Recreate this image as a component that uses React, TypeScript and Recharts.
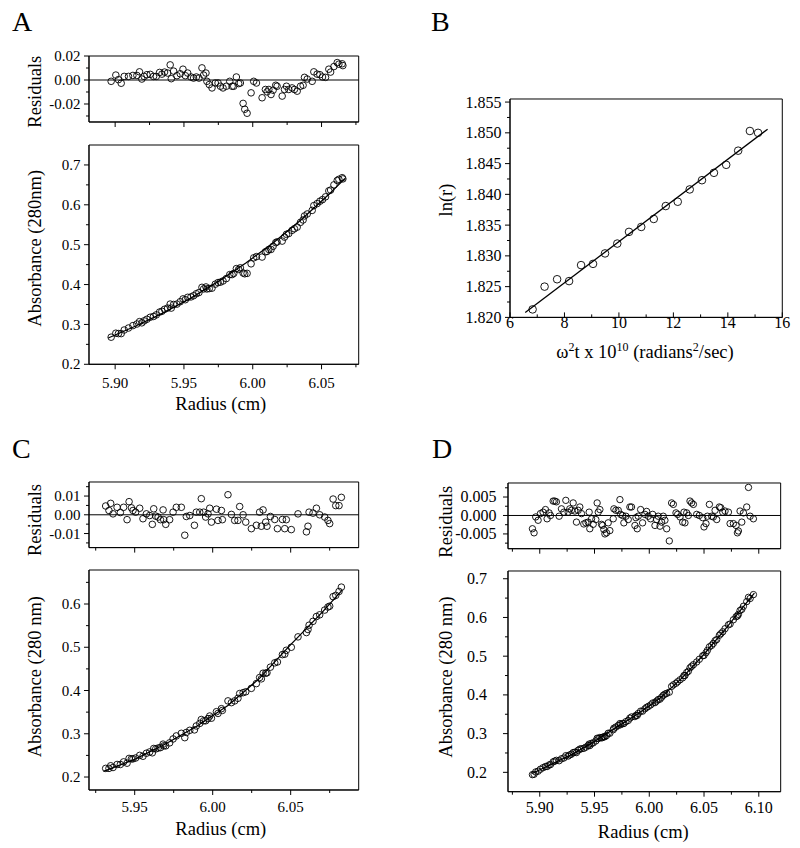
import { ScatterChart, Scatter, XAxis, YAxis, ReferenceLine, ReferenceArea } from 'recharts';

const FONT = "'Liberation Serif', 'Times New Roman', Times, 'DejaVu Serif', serif";

// ---- Panel A: residuals + absorbance vs radius ----
const aRadius = [
  5.8971, 5.9005, 5.9024, 5.9044, 5.9066, 5.9097, 5.9129, 5.9158, 5.9177, 5.9194,
  5.9211, 5.9231, 5.9255, 5.9279, 5.9299, 5.9323, 5.934, 5.9359, 5.9381, 5.94,
  5.9408, 5.9425, 5.9449, 5.9473, 5.9493, 5.951, 5.9527, 5.9551, 5.957, 5.959,
  5.9609, 5.9631, 5.9643, 5.966, 5.9667, 5.9684, 5.9704, 5.9728, 5.9748, 5.9765,
  5.9784, 5.9808, 5.9833, 5.985, 5.9862, 5.9881, 5.9898, 5.991, 5.993, 5.9942,
  5.9959, 5.9988, 6.0007, 6.0027, 6.0068, 6.0092, 6.0104, 6.0117, 6.0133, 6.0148,
  6.0167, 6.0177, 6.0214, 6.0231, 6.0245, 6.0262, 6.0286, 6.0303, 6.0323, 6.0347,
  6.0366, 6.0376, 6.0396, 6.0432, 6.0444, 6.0468, 6.0488, 6.0507, 6.0529, 6.0553,
  6.0566, 6.059, 6.0614, 6.0626, 6.065, 6.0655,
];
const aResidual = [
  -0.0011, 0.0041, 0.0003, -0.0027, 0.003, 0.003, 0.0038, 0.0038, 0.0068, 0.0008,
  0.003, 0.0044, 0.0047, 0.003, 0.003, 0.0063, 0.0049, 0.0066, 0.0058, 0.0126,
  0.0011, 0.0074, 0.0036, 0.0052, 0.009, 0.0036, 0.0058, 0.0025, 0.0016, 0.0025,
  0.0016, 0.0101, 0.0041, 0.0058, -0.0011, -0.0038, -0.0066, -0.0025, -0.0025, -0.0052,
  -0.0066, -0.0052, -0.0011, -0.0052, -0.0052, 0.0025, -0.003, -0.0025, -0.0195, -0.0244,
  -0.0277, -0.0107, -0.0011, -0.0025, -0.0148, -0.0079, -0.0099, -0.0079, -0.0121, -0.0085,
  -0.0044, -0.0052, -0.0134, -0.0079, -0.0052, -0.0079, -0.0066, -0.0079, -0.0093, -0.0052,
  -0.0044, 0.0022, 0.0008, -0.0011, 0.0068, 0.0049, 0.0044, 0.0025, 0.0022, 0.009,
  0.0066, 0.0112, 0.0145, 0.0132, 0.0135, 0.012,
];
const aAbsorbance = [
  0.268, 0.278, 0.277, 0.277, 0.286, 0.291, 0.297, 0.301, 0.307, 0.304,
  0.309, 0.313, 0.318, 0.32, 0.324, 0.331, 0.333, 0.338, 0.341, 0.351,
  0.341, 0.35, 0.351, 0.357, 0.364, 0.362, 0.368, 0.369, 0.372, 0.377,
  0.38, 0.393, 0.389, 0.394, 0.389, 0.39, 0.391, 0.401, 0.405, 0.406,
  0.409, 0.415, 0.425, 0.425, 0.428, 0.44, 0.438, 0.442, 0.429, 0.427,
  0.428, 0.452, 0.467, 0.47, 0.469, 0.482, 0.483, 0.488, 0.488, 0.496,
  0.505, 0.507, 0.509, 0.519, 0.526, 0.528, 0.536, 0.54, 0.544, 0.556,
  0.562, 0.572, 0.577, 0.586, 0.598, 0.603, 0.609, 0.613, 0.62, 0.635,
  0.637, 0.65, 0.661, 0.664, 0.668, 0.665,
];
const aFitRadius = [5.895, 5.915, 5.935, 5.955, 5.975, 5.995, 6.015, 6.035, 6.055, 6.067];
const aFitAbs = [0.266, 0.296, 0.329, 0.366, 0.408, 0.454, 0.505, 0.562, 0.625, 0.666];

// ---- Panel B: ln(r) vs omega^2 t ----
const bOmega = [6.83, 7.27, 7.73, 8.17, 8.61, 9.05, 9.49, 9.94, 10.37, 10.82, 11.28, 11.72, 12.16, 12.6, 13.05, 13.49, 13.94, 14.38, 14.81, 15.11];
const bLnR = [1.8213, 1.825, 1.8262, 1.8259, 1.8285, 1.8287, 1.8304, 1.832, 1.8339, 1.8347, 1.836, 1.8381, 1.8388, 1.8408, 1.8423, 1.8435, 1.8448, 1.8471, 1.8503, 1.85];
const bFitOmega = [6.56, 15.46];
const bFitLnR = [1.8208, 1.8506];

// ---- Panel C ----
const cRadius = [
  5.9314, 5.9335, 5.9346, 5.9361, 5.9387, 5.9408, 5.9429, 5.9451, 5.9464, 5.9479,
  5.9489, 5.9506, 5.9532, 5.9553, 5.9575, 5.9596, 5.9613, 5.9622, 5.9635, 5.965,
  5.9665, 5.9682, 5.9686, 5.9699, 5.9724, 5.9746, 5.9767, 5.9799, 5.9821, 5.9831,
  5.9853, 5.9883, 5.9895, 5.9917, 5.9927, 5.9942, 5.9955, 5.997, 5.9981, 5.9992,
  6.0024, 6.0034, 6.0056, 6.0062, 6.0098, 6.012, 6.0141, 6.0162, 6.0173, 6.0195,
  6.0212, 6.0248, 6.028, 6.0301, 6.0312, 6.0323, 6.034, 6.0348, 6.037, 6.0398,
  6.0415, 6.0447, 6.0462, 6.0472, 6.0504, 6.0547, 6.0601, 6.0611, 6.0618, 6.0643,
  6.0665, 6.0686, 6.0718, 6.0739, 6.075, 6.0772, 6.0789, 6.081, 6.0825,
];
const cResidual = [
  0.0047, 0.0023, 0.0061, 0.0005, 0.004, 0.0012, 0.004, -0.0026, 0.007, 0.0037,
  0.0023, 0.0014, 0.0035, -0.0021, 0.0005, -0.0004, -0.0051, 0.0032, -0.0007, -0.0012,
  -0.0026, 0.0026, -0.0026, -0.0051, -0.0026, 0.0014, 0.004, 0.004, -0.0109, -0.0009,
  -0.0004, -0.0056, 0.0014, 0.0014, 0.0086, 0.0014, -0.0012, 0.0005, 0.0035, -0.0039,
  0.003, -0.003, 0.0023, -0.0026, 0.0107, 0.0002, -0.003, -0.003, 0.0044, 0.0,
  -0.0039, -0.0074, -0.0056, 0.0014, -0.0061, 0.0026, -0.0039, -0.0061, -0.0009, -0.0025,
  -0.0074, -0.0025, -0.0074, -0.0026, -0.0079, 0.0005, -0.0091, -0.0061, 0.0014, 0.0009,
  0.0035, 0.0, -0.0012, -0.003, -0.0047, 0.0084, 0.0049, 0.0049, 0.0093,
];
const cAbsorbance = [
  0.22, 0.22, 0.226, 0.222, 0.229, 0.229, 0.235, 0.232, 0.243, 0.242,
  0.242, 0.244, 0.25, 0.248, 0.255, 0.258, 0.256, 0.266, 0.265, 0.267,
  0.268, 0.276, 0.272, 0.272, 0.279, 0.288, 0.295, 0.301, 0.291, 0.303,
  0.308, 0.309, 0.318, 0.324, 0.333, 0.33, 0.33, 0.335, 0.341, 0.336,
  0.351, 0.347, 0.358, 0.354, 0.376, 0.372, 0.376, 0.382, 0.393, 0.395,
  0.397, 0.405, 0.416, 0.43, 0.427, 0.44, 0.44, 0.441, 0.454, 0.464,
  0.466, 0.483, 0.484, 0.493, 0.5, 0.524, 0.534, 0.541, 0.551, 0.56,
  0.571, 0.575, 0.586, 0.593, 0.595, 0.617, 0.62, 0.629, 0.639,
];
const cFitRadius = [5.93, 5.95, 5.97, 5.99, 6.01, 6.03, 6.05, 6.07, 6.083];
const cFitAbs = [0.213, 0.241, 0.277, 0.318, 0.366, 0.428, 0.506, 0.58, 0.632];

// ---- Panel D ----
const dRadius = [
  5.8933, 5.8948, 5.8963, 5.8985, 5.9006, 5.903, 5.9052, 5.9067, 5.9085, 5.9098,
  5.9122, 5.9137, 5.9152, 5.9177, 5.9198, 5.922, 5.9238, 5.9259, 5.9274, 5.929,
  5.9305, 5.932, 5.9335, 5.9351, 5.9366, 5.9381, 5.9402, 5.9421, 5.9442, 5.9451,
  5.9457, 5.9473, 5.9488, 5.9512, 5.9524, 5.9534, 5.9549, 5.9564, 5.9573, 5.9585,
  5.9595, 5.961, 5.9625, 5.964, 5.9671, 5.9677, 5.9695, 5.9717, 5.9732, 5.9738,
  5.9756, 5.9768, 5.9787, 5.9808, 5.9823, 5.9838, 5.9869, 5.9878, 5.989, 5.9899,
  5.9921, 5.9939, 5.996, 5.9976, 5.9991, 6.0012, 6.0031, 6.0052, 6.0067, 6.0082,
  6.0098, 6.0113, 6.0128, 6.0143, 6.0159, 6.0183, 6.0204, 6.022, 6.0244, 6.0259,
  6.0281, 6.0305, 6.0317, 6.0326, 6.0342, 6.0357, 6.0372, 6.0387, 6.0403, 6.0433,
  6.0457, 6.0488, 6.05, 6.0518, 6.0531, 6.0549, 6.057, 6.0585, 6.0601, 6.0616,
  6.064, 6.0653, 6.0671, 6.0692, 6.0723, 6.0738, 6.0768, 6.0793, 6.0805, 6.0814,
  6.0829, 6.0845, 6.086, 6.089, 6.0906, 6.0921, 6.0951,
];
const dResidual = [
  -0.0036, -0.0047, -0.0004, -0.0013, 0.0005, 0.0009, 0.0016, -0.0009, 0.0007, 0.0,
  0.0039, 0.0039, 0.0037, -0.0002, 0.0018, 0.0009, 0.0041, 0.0009, 0.0018, 0.0014,
  0.0034, 0.0012, -0.0018, 0.0014, 0.0023, 0.0005, -0.0023, -0.002, -0.0018, 0.0009,
  -0.0036, -0.0009, -0.0024, -0.0011, 0.0034, 0.0009, 0.0016, -0.0024, -0.0027, -0.0038,
  -0.005, -0.0047, -0.002, -0.0041, -0.0009, 0.0018, 0.0014, 0.0014, 0.0043, 0.0003,
  0.0, -0.002, -0.0002, -0.0011, 0.0023, 0.0023, -0.0027, -0.0006, -0.0036, -0.0002,
  0.0016, -0.002, 0.0003, 0.0011, -0.0002, -0.0009, 0.0003, -0.0027, -0.0011, -0.0002,
  -0.0029, -0.0018, -0.0002, -0.0013, -0.0036, -0.0069, 0.0034, 0.003, 0.0007, 0.0003,
  -0.0004, -0.0018, 0.0009, -0.002, 0.0007, 0.0, 0.0039, 0.0034, 0.003, 0.0003,
  0.0, -0.0006, -0.0031, -0.0022, -0.0002, 0.003, -0.0002, -0.0004, 0.0014, -0.0011,
  0.0023, 0.0021, 0.0009, 0.0012, 0.0009, -0.0022, -0.0022, -0.0027, -0.0047, -0.0042,
  0.0012, -0.0018, 0.0007, 0.0023, 0.0076, -0.0002, -0.0009,
];
const dAbsorbance = [
  0.194, 0.195, 0.201, 0.203, 0.208, 0.212, 0.215, 0.215, 0.219, 0.22,
  0.227, 0.229, 0.231, 0.23, 0.235, 0.237, 0.243, 0.242, 0.245, 0.247,
  0.251, 0.252, 0.251, 0.257, 0.26, 0.261, 0.262, 0.265, 0.269, 0.273,
  0.269, 0.275, 0.276, 0.281, 0.288, 0.287, 0.29, 0.289, 0.29, 0.292,
  0.292, 0.295, 0.301, 0.301, 0.31, 0.314, 0.317, 0.321, 0.326, 0.323,
  0.326, 0.326, 0.331, 0.334, 0.34, 0.343, 0.344, 0.347, 0.347, 0.352,
  0.358, 0.358, 0.364, 0.368, 0.37, 0.374, 0.379, 0.38, 0.384, 0.388,
  0.389, 0.394, 0.399, 0.402, 0.404, 0.407, 0.422, 0.426, 0.43, 0.434,
  0.439, 0.444, 0.45, 0.45, 0.458, 0.461, 0.47, 0.474, 0.478, 0.485,
  0.492, 0.501, 0.502, 0.509, 0.515, 0.524, 0.528, 0.533, 0.54, 0.543,
  0.554, 0.558, 0.563, 0.571, 0.581, 0.583, 0.594, 0.602, 0.604, 0.608,
  0.618, 0.621, 0.629, 0.641, 0.652, 0.649, 0.659,
];
const dFitRadius = [5.893, 5.91, 5.93, 5.95, 5.97, 5.99, 6.01, 6.03, 6.05, 6.07, 6.09, 6.096];
const dFitAbs = [0.197, 0.22, 0.247, 0.28, 0.316, 0.352, 0.392, 0.444, 0.505, 0.572, 0.642, 0.663];

// tick positions
const absTicks = [0.2, 0.3, 0.4, 0.5, 0.6, 0.7];
const absMinor = [0.25, 0.35, 0.45, 0.55, 0.65];
const acRadiusMinor = [5.925, 5.975, 6.025, 6.075];

type Pt = { x: number; y: number };
const pairs = (xs: number[], ys: number[]): Pt[] =>
  xs.map((x, i) => ({ x, y: ys[i] })).filter((d) => d.y !== undefined);
const near = (list: number[], v: number) => list.some((m) => Math.abs(m - v) < 1e-9);

type PanelProps = {
  box: [number, number, number, number];
  xDomain: [number, number];
  yDomain: [number, number];
  xMajor: number[];
  xMinor: number[];
  yMajor: number[];
  yMinor: number[];
  xDigits?: number;
  yDigits: number;
  xLabels?: boolean;
  xLabelDy?: number;
  xTickDir?: number;
  yLabelGap?: number;
  fontSize?: number;
  points: Pt[];
  fit?: Pt[];
  zero?: boolean;
  r?: number;
};

function Panel(p: PanelProps) {
  const [l, t, rgt, btm] = p.box;
  const ML = 80;
  const MT = 14;
  const MR = 16;
  const MB = p.xLabels ? 34 : 10;
  const W = ML + (rgt - l) + MR;
  const H = MT + (btm - t) + MB;
  const fs = p.fontSize ?? 15;
  const dir = p.xTickDir ?? 1;
  const gap = p.yLabelGap ?? 3.5;
  const rad = p.r ?? 3.3;
  const tstyle = { fontFamily: FONT, fontSize: fs };

  const xTick = (props: any) => {
    const { x, y, payload } = props;
    const major = near(p.xMajor, payload.value);
    return (
      <g>
        <line x1={x} x2={x} y1={y} y2={y + (major ? 5 : 3) * dir} stroke="#000" strokeWidth={1} />
        {major && p.xLabels && (
          <text x={x} y={y + (p.xLabelDy ?? 22)} textAnchor="middle" style={tstyle} fill="#000">
            {Number(payload.value).toFixed(p.xDigits ?? 2)}
          </text>
        )}
      </g>
    );
  };

  const yTick = (props: any) => {
    const { x, y, payload } = props;
    const major = near(p.yMajor, payload.value);
    return (
      <g>
        <line x1={x - (major ? 5 : 3)} x2={x} y1={y} y2={y} stroke="#000" strokeWidth={1} />
        {major && (
          <text x={x - 5 - gap} y={y} dy="0.34em" textAnchor="end" style={tstyle} fill="#000">
            {Number(payload.value).toFixed(p.yDigits)}
          </text>
        )}
      </g>
    );
  };

  return (
    <div style={{ position: 'absolute', left: l - ML, top: t - MT, width: W, height: H }}>
      <ScatterChart width={W} height={H} margin={{ top: MT, right: MR, bottom: 0, left: 0 }}>
        <XAxis
          type="number"
          dataKey="x"
          domain={p.xDomain}
          allowDataOverflow
          ticks={[...p.xMajor, ...p.xMinor].sort((a, b) => a - b)}
          interval={0}
          tickSize={0}
          tickMargin={0}
          tickLine={false}
          tick={xTick}
          height={MB}
          axisLine={{ stroke: '#000', strokeWidth: 1 }}
        />
        <YAxis
          type="number"
          dataKey="y"
          domain={p.yDomain}
          allowDataOverflow
          ticks={[...p.yMajor, ...p.yMinor].sort((a, b) => a - b)}
          interval={0}
          tickSize={0}
          tickMargin={0}
          tickLine={false}
          tick={yTick}
          width={ML}
          axisLine={{ stroke: '#000', strokeWidth: 1 }}
        />
        <ReferenceArea
          x1={p.xDomain[0]}
          x2={p.xDomain[1]}
          y1={p.yDomain[0]}
          y2={p.yDomain[1]}
          fill="none"
          fillOpacity={0}
          stroke="#000"
          strokeWidth={1}
        />
        {p.zero && <ReferenceLine y={0} stroke="#000" strokeWidth={1} />}
        {p.fit && (
          <Scatter
            data={p.fit}
            line={{ stroke: '#000', strokeWidth: 1.3 }}
            lineType="joint"
            shape={() => <g />}
            isAnimationActive={false}
          />
        )}
        <Scatter
          data={p.points}
          shape={(s: any) => <circle cx={s.cx} cy={s.cy} r={rad} fill="none" stroke="#000" strokeWidth={0.9} />}
          isAnimationActive={false}
        />
      </ScatterChart>
    </div>
  );
}

const tt = (size: number) => ({ fontFamily: FONT, fontSize: size });

function VTitle({ x, y, children }: { x: number; y: number; children: any }) {
  return (
    <text transform={`translate(${x},${y}) rotate(-90)`} textAnchor="middle" style={tt(18.5)} fill="#000">
      {children}
    </text>
  );
}

export default function App() {
  return (
    <div
      style={{ position: 'absolute', left: 0, top: 0, width: 800, height: 848, background: '#fff', fontFamily: FONT }}
    >
      {/* A */}
      <Panel
        box={[89.3, 56, 359, 122]}
        xDomain={[5.881, 6.077]}
        yDomain={[-0.035, 0.02]}
        xMajor={[5.9, 5.95, 6.0, 6.05]}
        xMinor={acRadiusMinor}
        yMajor={[-0.02, 0, 0.02]}
        yMinor={[-0.03, -0.01, 0.01]}
        yDigits={2}
        zero
        points={pairs(aRadius, aResidual)}
      />
      <Panel
        box={[89.3, 145, 359, 364.3]}
        xDomain={[5.881, 6.077]}
        yDomain={[0.2, 0.75]}
        xMajor={[5.9, 5.95, 6.0, 6.05]}
        xMinor={acRadiusMinor}
        yMajor={absTicks}
        yMinor={absMinor}
        yDigits={1}
        xLabels
        xLabelDy={24}
        points={pairs(aRadius, aAbsorbance)}
        fit={pairs(aFitRadius, aFitAbs)}
      />
      {/* B */}
      <Panel
        box={[510, 99.3, 782.3, 317.7]}
        xDomain={[6, 16]}
        yDomain={[1.82, 1.8555]}
        xMajor={[6, 8, 10, 12, 14, 16]}
        xMinor={[7, 9, 11, 13, 15]}
        yMajor={[1.82, 1.825, 1.83, 1.835, 1.84, 1.845, 1.85, 1.855]}
        yMinor={[1.8225, 1.8275, 1.8325, 1.8375, 1.8425, 1.8475, 1.8525]}
        xDigits={0}
        yDigits={3}
        xLabels
        xLabelDy={10.5}
        xTickDir={-1}
        fontSize={16}
        r={3.8}
        points={pairs(bOmega, bLnR)}
        fit={pairs(bFitOmega, bFitLnR)}
      />
      {/* C */}
      <Panel
        box={[89.3, 481.7, 359, 547.3]}
        xDomain={[5.9207, 6.0936]}
        yDomain={[-0.0175, 0.0175]}
        xMajor={[5.95, 6.0, 6.05]}
        xMinor={acRadiusMinor}
        yMajor={[-0.01, 0, 0.01]}
        yMinor={[-0.015, -0.005, 0.005, 0.015]}
        yDigits={2}
        zero
        points={pairs(cRadius, cResidual)}
      />
      <Panel
        box={[89.3, 570, 359, 790]}
        xDomain={[5.9207, 6.0936]}
        yDomain={[0.17, 0.6786]}
        xMajor={[5.95, 6.0, 6.05]}
        xMinor={acRadiusMinor}
        yMajor={[0.2, 0.3, 0.4, 0.5, 0.6]}
        yMinor={absMinor}
        yDigits={1}
        xLabels
        xLabelDy={21.7}
        points={pairs(cRadius, cAbsorbance)}
        fit={pairs(cFitRadius, cFitAbs)}
      />
      {/* D */}
      <Panel
        box={[508.3, 483.3, 781, 549]}
        xDomain={[5.871, 6.12]}
        yDomain={[-0.009, 0.0088]}
        xMajor={[5.9, 5.95, 6.0, 6.05, 6.1]}
        xMinor={[5.875, 5.925, 5.975, 6.025, 6.075]}
        yMajor={[-0.005, 0, 0.005]}
        yMinor={[-0.0075, -0.0025, 0.0025, 0.0075]}
        yDigits={3}
        yLabelGap={6.5}
        fontSize={16}
        zero
        r={3.2}
        points={pairs(dRadius, dResidual)}
      />
      <Panel
        box={[508.3, 571, 781, 791.7]}
        xDomain={[5.871, 6.12]}
        yDomain={[0.15, 0.72]}
        xMajor={[5.9, 5.95, 6.0, 6.05, 6.1]}
        xMinor={[5.875, 5.925, 5.975, 6.025, 6.075]}
        yMajor={absTicks}
        yMinor={absMinor}
        yDigits={1}
        yLabelGap={16}
        fontSize={16}
        xLabels
        xLabelDy={21.6}
        r={3.2}
        points={pairs(dRadius, dAbsorbance)}
        fit={pairs(dFitRadius, dFitAbs)}
      />
      <svg width={800} height={848} style={{ position: 'absolute', left: 0, top: 0, pointerEvents: 'none' }}>
        <text x={12} y={31} style={tt(28)} fill="#000">A</text>
        <text x={431} y={31} style={tt(28)} fill="#000">B</text>
        <text x={12} y={458} style={tt(28)} fill="#000">C</text>
        <text x={432} y={458} style={tt(28)} fill="#000">D</text>

        <VTitle x={41} y={91.7}>Residuals</VTitle>
        <VTitle x={41} y={248.3}>Absorbance (280nm)</VTitle>
        <text x={220.8} y={410} textAnchor="middle" style={tt(18.5)} fill="#000">Radius (cm)</text>

        <VTitle x={452} y={200}>ln(r)</VTitle>
        <text x={645} y={358} textAnchor="middle" style={tt(18.5)} fill="#000">
          ω<tspan dy={-7} style={tt(12)}>2</tspan>
          <tspan dy={7}>t x 10</tspan>
          <tspan dy={-7} style={tt(12)}>10</tspan>
          <tspan dy={7}> (radians</tspan>
          <tspan dy={-7} style={tt(12)}>2</tspan>
          <tspan dy={7}>/sec)</tspan>
        </text>

        <VTitle x={41} y={520}>Residuals</VTitle>
        <VTitle x={41} y={676.7}>Absorbance (280 nm)</VTitle>
        <text x={220.8} y={835} textAnchor="middle" style={tt(18.5)} fill="#000">Radius (cm)</text>

        <VTitle x={452} y={521.7}>Residuals</VTitle>
        <VTitle x={452} y={677}>Absorbance (280 nm)</VTitle>
        <text x={643.3} y={838} textAnchor="middle" style={tt(18.5)} fill="#000">Radius (cm)</text>
      </svg>
    </div>
  );
}
